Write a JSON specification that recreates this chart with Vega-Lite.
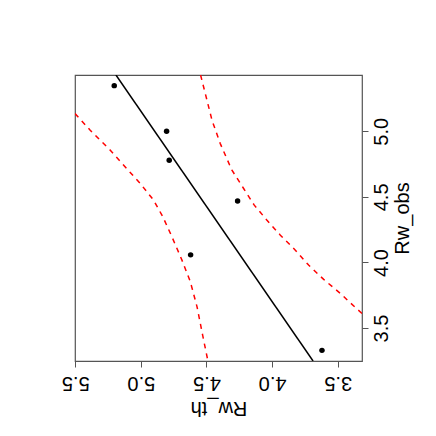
{
  "$schema": "https://vega.github.io/schema/vega-lite/v6.json",
  "autosize": "none",
  "width": 287,
  "height": 286,
  "padding": {"left": 75, "top": 75, "right": 74, "bottom": 75},
  "background": "white",
  "config": {
    "view": {"stroke": "#555", "strokeWidth": 1.2},
    "font": "Liberation Sans"
  },
  "data": {
    "values": [
      {"series": "obs", "ord": 1, "Rw_th": 5.203, "Rw_obs": 5.348},
      {"series": "obs", "ord": 2, "Rw_th": 4.804, "Rw_obs": 5.0},
      {"series": "obs", "ord": 3, "Rw_th": 4.784, "Rw_obs": 4.779},
      {"series": "obs", "ord": 4, "Rw_th": 4.263, "Rw_obs": 4.469},
      {"series": "obs", "ord": 5, "Rw_th": 4.621, "Rw_obs": 4.058},
      {"series": "obs", "ord": 6, "Rw_th": 3.62, "Rw_obs": 3.33},
      {"series": "fit", "ord": 1, "Rw_th": 5.19, "Rw_obs": 5.429},
      {"series": "fit", "ord": 2, "Rw_th": 3.688, "Rw_obs": 3.249},
      {"series": "lwr", "ord": 1, "Rw_th": 5.502, "Rw_obs": 5.135},
      {"series": "lwr", "ord": 2, "Rw_th": 5.386, "Rw_obs": 5.008},
      {"series": "lwr", "ord": 3, "Rw_th": 5.233, "Rw_obs": 4.855},
      {"series": "lwr", "ord": 4, "Rw_th": 5.119, "Rw_obs": 4.728},
      {"series": "lwr", "ord": 5, "Rw_th": 5.005, "Rw_obs": 4.602},
      {"series": "lwr", "ord": 6, "Rw_th": 4.903, "Rw_obs": 4.475},
      {"series": "lwr", "ord": 7, "Rw_th": 4.832, "Rw_obs": 4.347},
      {"series": "lwr", "ord": 8, "Rw_th": 4.763, "Rw_obs": 4.195},
      {"series": "lwr", "ord": 9, "Rw_th": 4.687, "Rw_obs": 4.018},
      {"series": "lwr", "ord": 10, "Rw_th": 4.623, "Rw_obs": 3.853},
      {"series": "lwr", "ord": 11, "Rw_th": 4.572, "Rw_obs": 3.662},
      {"series": "lwr", "ord": 12, "Rw_th": 4.527, "Rw_obs": 3.434},
      {"series": "lwr", "ord": 13, "Rw_th": 4.489, "Rw_obs": 3.249},
      {"series": "upr", "ord": 1, "Rw_th": 4.545, "Rw_obs": 5.429},
      {"series": "upr", "ord": 2, "Rw_th": 4.509, "Rw_obs": 5.287},
      {"series": "upr", "ord": 3, "Rw_th": 4.458, "Rw_obs": 5.084},
      {"series": "upr", "ord": 4, "Rw_th": 4.395, "Rw_obs": 4.906},
      {"series": "upr", "ord": 5, "Rw_th": 4.306, "Rw_obs": 4.703},
      {"series": "upr", "ord": 6, "Rw_th": 4.217, "Rw_obs": 4.564},
      {"series": "upr", "ord": 7, "Rw_th": 4.136, "Rw_obs": 4.437},
      {"series": "upr", "ord": 8, "Rw_th": 4.039, "Rw_obs": 4.322},
      {"series": "upr", "ord": 9, "Rw_th": 3.937, "Rw_obs": 4.208},
      {"series": "upr", "ord": 10, "Rw_th": 3.823, "Rw_obs": 4.094},
      {"series": "upr", "ord": 11, "Rw_th": 3.722, "Rw_obs": 3.98},
      {"series": "upr", "ord": 12, "Rw_th": 3.607, "Rw_obs": 3.871},
      {"series": "upr", "ord": 13, "Rw_th": 3.48, "Rw_obs": 3.764},
      {"series": "upr", "ord": 14, "Rw_th": 3.358, "Rw_obs": 3.65},
      {"series": "upr", "ord": 15, "Rw_th": 3.315, "Rw_obs": 3.612}
    ]
  },
  "encoding": {
    "x": {
      "field": "Rw_th", "type": "quantitative",
      "scale": {"domain": [3.315, 5.502], "reverse": true, "nice": false, "zero": false},
      "axis": {
        "orient": "bottom", "title": "Rw_th", "values": [3.5, 4.0, 4.5, 5.0, 5.5], "format": ".1f",
        "grid": false, "domain": false, "tickColor": "#555", "tickSize": 6,
        "labelAngle": 180, "labelBaseline": "alphabetic", "labelAlign": "center", "labelPadding": 9,
        "labelFontSize": 20, "labelColor": "#000", "labelFont": "Liberation Sans", "labelFlush": false,
        "titleAngle": 180, "titleBaseline": "alphabetic", "titleAlign": "center",
        "titleFontSize": 20, "titleFontWeight": "normal", "titleColor": "#000", "titleFont": "Liberation Sans",
        "titleY": 40, "titleX": 143.5
      }
    },
    "y": {
      "field": "Rw_obs", "type": "quantitative",
      "scale": {"domain": [3.249, 5.429], "nice": false, "zero": false},
      "axis": {
        "orient": "right", "title": "Rw_obs", "values": [3.5, 4.0, 4.5, 5.0], "format": ".1f",
        "grid": false, "domain": false, "tickColor": "#555", "tickSize": 6,
        "labelAngle": 270, "labelBaseline": "top", "labelAlign": "center", "labelPadding": 3,
        "labelFontSize": 20, "labelColor": "#000", "labelFont": "Liberation Sans", "labelFlush": false,
        "titleAngle": 270, "titleBaseline": "alphabetic", "titleAlign": "center",
        "titleFontSize": 20, "titleFontWeight": "normal", "titleColor": "#000", "titleFont": "Liberation Sans",
        "titleX": 46, "titleY": 143
      }
    }
  },
  "layer": [
    {
      "transform": [{"filter": "datum.series === 'lwr' || datum.series === 'upr'"}],
      "mark": {"type": "line", "color": "#ff0000", "strokeWidth": 1.5, "strokeDash": [5, 5], "clip": true},
      "encoding": {"detail": {"field": "series"}, "order": {"field": "ord", "type": "quantitative"}}
    },
    {
      "transform": [{"filter": "datum.series === 'fit'"}],
      "mark": {"type": "line", "color": "#000", "strokeWidth": 1.5, "clip": true},
      "encoding": {"order": {"field": "ord", "type": "quantitative"}}
    },
    {
      "transform": [{"filter": "datum.series === 'obs'"}],
      "mark": {"type": "circle", "color": "#000", "opacity": 1, "size": 30},
      "encoding": {}
    }
  ]
}
